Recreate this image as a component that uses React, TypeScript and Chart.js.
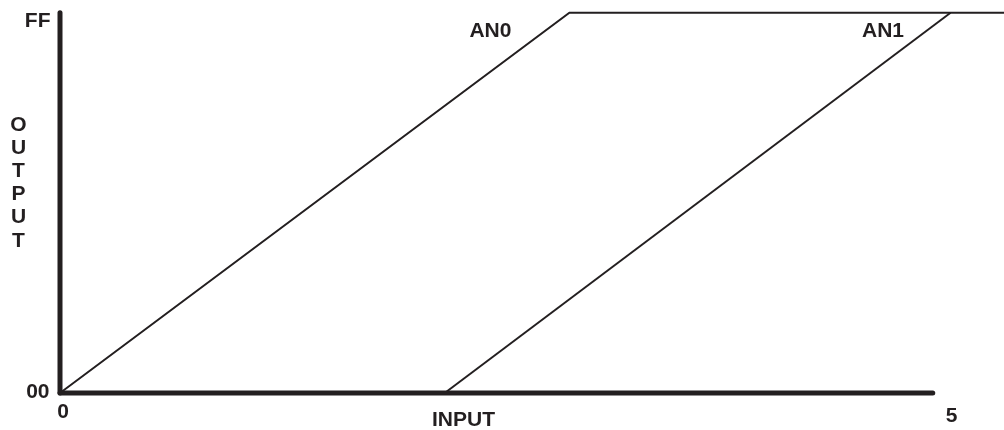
import React, { useEffect, useRef } from "react";
import { Chart, registerables } from "chart.js";

Chart.register(...registerables);

// ---- data (input volts -> output code 0x00..0xFF) ----
const an0X = [0, 2.86, 5.3];
const an0Y = [0, 255, 255];
const an1X = [2.16, 5.0];
const an1Y = [0, 255];
const xAxisLineX = [0, 4.9];
const yAxisLineY = [0, 255];
const xTickValues = [0, 5];
const xTickLabels = ["0", "5"];
const yTickValues = [0, 255];
const yTickLabels = ["00", "FF"];
const seriesNames = ["AN0", "AN1"];
const xTitle = "INPUT";
const yTitle = "OUTPUT";

const INK = "#231f20";
const FONT = "bold 21px 'Liberation Sans', Arial, Helvetica, sans-serif";

const toPts = (xs: number[], ys: number[]) => xs.map((x, i) => ({ x, y: ys[i] }));

const textPlugin = {
  id: "annotTexts",
  afterDatasetsDraw(chart: any) {
    const { ctx, scales } = chart;
    const xs = scales.x;
    const ys = scales.y;
    ctx.save();
    ctx.fillStyle = INK;
    ctx.font = FONT;
    ctx.textBaseline = "alphabetic";

    // x tick labels
    ctx.textAlign = "center";
    const xOff = [3, 1];
    const xBase = [417.5, 422];
    xTickValues.forEach((v, i) => {
      ctx.fillText(xTickLabels[i], xs.getPixelForValue(v) + xOff[i], xBase[i]);
    });

    // y tick labels
    ctx.textAlign = "right";
    const yOff = [4.5, 14];
    const yRight = [49.5, 50.5];
    yTickValues.forEach((v, i) => {
      ctx.fillText(yTickLabels[i], yRight[i], ys.getPixelForValue(v) + yOff[i]);
    });

    // x title
    ctx.textAlign = "center";
    ctx.fillText(xTitle, 463.5, 426);

    // y title, stacked letters
    const letters = yTitle.split("");
    letters.forEach((ch, i) => {
      ctx.fillText(ch, 18.5, 130.5 + i * 23.2);
    });

    // series labels, placed left of the top corner of each line
    const corners = [an0X[1], an1X[1]];
    const dx = [-79, -67.6];
    seriesNames.forEach((name, i) => {
      ctx.fillText(name, xs.getPixelForValue(corners[i]) + dx[i], 37);
    });
    ctx.restore();
  },
};

export default function App() {
  const ref = useRef<HTMLCanvasElement | null>(null);

  useEffect(() => {
    const prevMargin = document.body.style.margin;
    document.body.style.margin = "0";
    const canvas = ref.current;
    if (!canvas) return;
    const lineCommon = {
      showLine: true,
      pointRadius: 0,
      pointHoverRadius: 0,
      borderColor: INK,
      backgroundColor: INK,
      fill: false,
      tension: 0,
      clip: false as any,
    };
    const chart = new Chart(canvas, {
      type: "scatter",
      data: {
        datasets: [
          { ...lineCommon, label: "xaxis", data: toPts(xAxisLineX, [0, 0]), borderWidth: 5, borderCapStyle: "round" },
          { ...lineCommon, label: "yaxis", data: toPts([0, 0], yAxisLineY), borderWidth: 5, borderCapStyle: "round" },
          { ...lineCommon, label: seriesNames[0], data: toPts(an0X, an0Y), borderWidth: 2, borderJoinStyle: "miter" },
          { ...lineCommon, label: seriesNames[1], data: toPts(an1X, an1Y), borderWidth: 2 },
        ],
      },
      options: {
        animation: false,
        responsive: false,
        devicePixelRatio: 1,
        layout: { padding: { left: 60, right: 0, top: 12.7, bottom: 37 } },
        plugins: { legend: { display: false }, tooltip: { enabled: false } },
        events: [],
        scales: {
          x: { type: "linear", min: 0, max: 5.3, display: false },
          y: { type: "linear", min: 0, max: 255, display: false },
        },
      },
      plugins: [textPlugin],
    });
    return () => {
      chart.destroy();
      document.body.style.margin = prevMargin;
    };
  }, []);

  return (
    <div style={{ position: "fixed", left: 0, top: 0, width: 1004, height: 430, background: "#fff" }}>
      <canvas ref={ref} width={1004} height={430} />
    </div>
  );
}
